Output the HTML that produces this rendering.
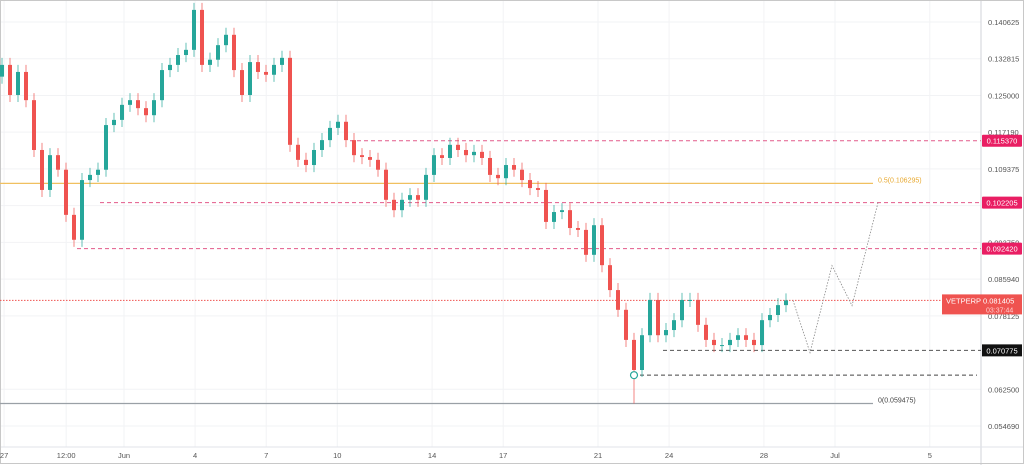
<!DOCTYPE html>
<html><head><meta charset="utf-8"><style>
body{margin:0;background:#fff;width:1024px;height:465px;overflow:hidden;font-family:"Liberation Sans",sans-serif}
svg{display:block}
</style></head><body>
<svg id="chart" width="1024" height="465" xmlns="http://www.w3.org/2000/svg" font-family="Liberation Sans, sans-serif"></svg>
<script>
const closes=[0.1315,0.1251,0.1300,0.1240,0.1134,0.1049,0.1123,0.1092,0.0996,0.0943,0.1070,0.1081,0.1092,0.1187,0.1198,0.1230,0.1240,0.1223,0.1208,0.1240,0.1304,0.1315,0.1336,0.1347,0.1432,0.1315,0.1326,0.1357,0.1379,0.1304,0.1251,0.1321,0.1300,0.1294,0.1315,0.1330,0.1145,0.1113,0.1102,0.1134,0.1155,0.1181,0.1194,0.1155,0.1123,0.1119,0.1113,0.1092,0.1028,0.1006,0.1028,0.1038,0.1028,0.1081,0.1123,0.1117,0.1145,0.1134,0.1123,0.1130,0.1117,0.1081,0.1074,0.1102,0.1092,0.1070,0.1053,0.1049,0.0981,0.1002,0.1006,0.0968,0.0964,0.0911,0.0974,0.0889,0.0836,0.0794,0.0730,0.0666,0.0740,0.0815,0.0740,0.0751,0.0772,0.0815,0.0815,0.0762,0.0730,0.0719,0.0719,0.0730,0.0740,0.0730,0.0719,0.0772,0.0783,0.0804,0.081405];
const firstOpen=0.1290;
const wickLowIndex=79, wickLowValue=0.059475;
const yTicks=[0.140625,0.132815,0.125000,0.117190,0.109375,0.101560,0.093750,0.085940,0.078125,0.062500,0.054690];
const xLabels=["27","12:00","Jun","4","7","10","14","17","21","24","28","Jul","5"];
const xLabelDays=[-5.06,-2.44,0,3,6,9,13,16,20,23,27,30,34];
const levels=[0.115370,0.102205,0.092420];
const projection=[0.081405,0.0703,0.0888,0.0803,0.1022];

const NS="http://www.w3.org/2000/svg";
const svg=document.getElementById('chart');
const y=p=>22+(0.140625-p)*4701;
const xc=i=>2+i*8;
const xd=d=>124+d*23.7;
function el(t,a,parent){const e=document.createElementNS(NS,t);for(const k in a)e.setAttribute(k,a[k]);(parent||svg).appendChild(e);return e;}

yTicks.forEach(t=>{const g=el('line',{x1:0,x2:981,y1:y(t),y2:y(t),stroke:'#f2f3f5'});

});
xLabelDays.forEach(d=>{const g=el('line',{x1:xd(d),x2:xd(d),y1:0,y2:447,stroke:'#f2f3f5'});

});
el('line',{x1:981,x2:981,y1:0,y2:465,stroke:'#d0d3da'});
el('line',{x1:0,x2:1024,y1:447,y2:447,stroke:'#e0e3ea'});
el('rect',{x:0.5,y:0.5,width:1023,height:463,fill:'none',stroke:'#c8c8c8'});

const orange=el('line',{x1:0,x2:873,y1:y(0.106295),y2:y(0.106295),stroke:'#f0c060','stroke-width':1.3});

const t05=el('text',{x:878,y:y(0.106295)-1,'font-size':7,fill:'#e8a930'});t05.textContent='0.5(0.106295)';

const grey=el('line',{x1:0,x2:873,y1:y(0.059475),y2:y(0.059475),stroke:'#9aa0a6','stroke-width':1.3});

const t0=el('text',{x:878,y:y(0.059475)-1,'font-size':7,fill:'#444'});t0.textContent='0(0.059475)';


const starts=[350,100,77];
levels.forEach((l,k)=>{const ln=el('line',{x1:starts[k],x2:981,y1:y(l),y2:y(l),stroke:'#e25a8a','stroke-dasharray':'4 3','stroke-width':1});
});
const s1=el('line',{x1:663,x2:981,y1:y(0.070775),y2:y(0.070775),stroke:'#555','stroke-dasharray':'4 3'});

const s2=el('line',{x1:640,x2:977,y1:y(0.0655),y2:y(0.0655),stroke:'#444','stroke-dasharray':'4 3'});

const cur=el('line',{x1:0,x2:981,y1:y(0.081405),y2:y(0.081405),stroke:'#ef5350','stroke-dasharray':'1.5 1.5'});


yTicks.forEach(t=>{const tx=el('text',{x:988,y:y(t)+3,'font-size':7.5,fill:'#555'});tx.textContent=t.toFixed(6);
});
levels.forEach(l=>{const b=el('rect',{x:982,y:y(l)-6,width:40,height:12,fill:'#e91e63',rx:1});

const tx=el('text',{x:1002,y:y(l)+3,'font-size':7.5,fill:'#fff','text-anchor':'middle'});tx.textContent=l.toFixed(6);});
const sb=el('rect',{x:982,y:y(0.070775)-6,width:40,height:12,fill:'#111'});

const st2=el('text',{x:1002,y:y(0.070775)+3,'font-size':7.5,fill:'#fff','text-anchor':'middle'});st2.textContent='0.070775';
const cp=el('rect',{x:942,y:y(0.081405)-6,width:80,height:20,fill:'#ef5350'});

const cpt=el('text',{x:946,y:y(0.081405)+3,'font-size':7.5,fill:'#fff'});cpt.textContent='VETPERP  0.081405';
const cpt2=el('text',{x:986,y:y(0.081405)+12,'font-size':7,fill:'#ffd0d0'});cpt2.textContent='03:37:44';

xLabels.forEach((s,i)=>{const tx=el('text',{x:xd(xLabelDays[i]),y:458,'font-size':7.5,fill:'#555','text-anchor':'middle'});tx.textContent=s;
});

let prev=firstOpen;
closes.forEach((c,i)=>{const o=prev;prev=c;const up=c>=o;const col=up?'#26a69a':'#ef5350';
const hi=Math.max(o,c)+0.0015;let lo=Math.min(o,c)-0.0015;if(i===wickLowIndex)lo=wickLowValue;
const g=el('g',{});


el('line',{x1:xc(i),x2:xc(i),y1:y(hi),y2:y(lo),stroke:col,'stroke-width':1,opacity:0.7},g);
const top=y(Math.max(o,c)),h=Math.max(1,y(Math.min(o,c))-top);
el('rect',{x:xc(i)-2,y:top,width:4,height:h,fill:col},g);});

const circ=el('circle',{cx:xc(wickLowIndex),cy:y(0.0655),r:3.5,fill:'#fff',stroke:'#26a69a','stroke-width':1.2});


const px=[793,810,832,852,878];
const pp=el('polyline',{points:projection.map((p,i)=>px[i]+','+y(p)).join(' '),fill:'none',stroke:'#888','stroke-width':0.8,'stroke-dasharray':'1.5 1.5'});

</script>
</body></html>
